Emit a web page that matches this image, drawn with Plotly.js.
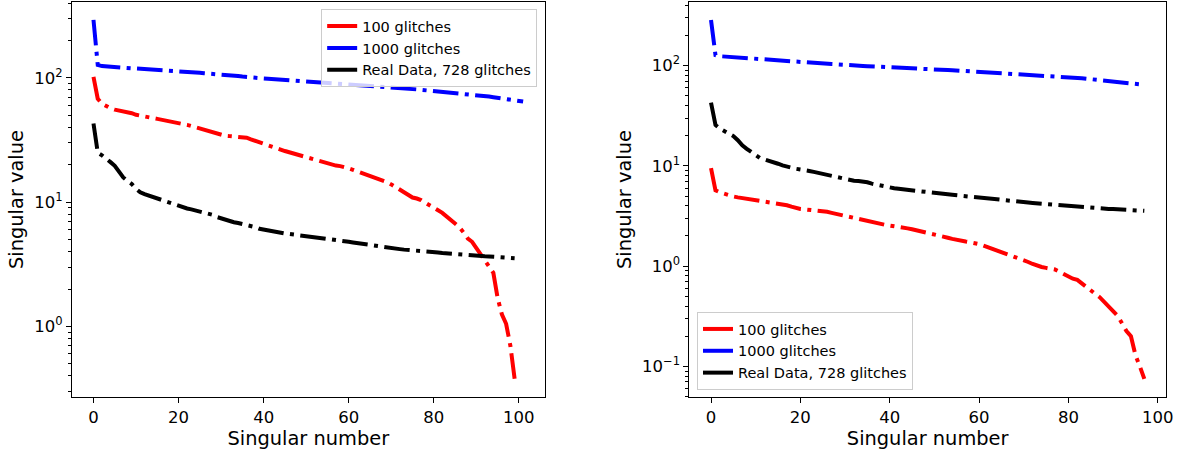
<!DOCTYPE html>
<html>
<head>
<meta charset="utf-8">
<script src="https://cdn.plot.ly/plotly-3.0.1.min.js"></script>
<style>html,body{margin:0;padding:0;background:#fff;}#chart{width:1180px;height:450px;}</style>
</head>
<body>
<div id="chart"></div>
<script>
// ---- Data ----
const seriesNames = ["100 glitches", "1000 glitches", "Real Data, 728 glitches"];
const seriesColors = ["#ff0000", "#0000ff", "#000000"];

// Left panel
const left100 = [102,68,62,59,57,55.5,54.5,54,53.5,52,50.5,49.5,48.8,48.2,47.5,46.8,46.2,45.5,44.8,44,
  43.2,42.5,41.9,41,40.2,39.4,38.4,37.4,36.3,35.5,34.8,34.2,34,33.8,33.7,33.6,33,32,31.2,30.5,
  29.8,29,28.4,27.6,26.5,25.8,25.2,24.7,24.2,23.7,23.2,22.7,22.2,21.6,21,20.4,20,19.7,19.5,19.2,
  18.7,18.2,17.7,17.1,16.6,16.2,15.9,15.5,15,14.5,13.9,13.2,12.6,12,11.3,10.9,10.7,10.4,9.9,9.5,
  9.0,8.6,8.2,7.7,7.1,6.7,6.3,5.7,5.1,4.8,4.3,3.8,3.4,3.05,2.7,1.7,1.25,1.05,0.7,0.38];
const left1000 = [293,127,124.5,123.5,122.5,122,121,120.5,120,119.5,119,118.5,118,117,116.5,116,115,114.5,114,113,
  112.5,112,111.5,111,110.5,110,109,108.5,108,107,106.5,105.5,105,104,103.5,102.5,101.5,101,100.5,99.5,
  99,98.5,98,97.5,97,96.5,96,95.5,95,94.5,94,93.5,93,92.5,92,91.5,91,90.5,90,89.5,
  89,88.5,88,87.5,87,86.5,86,85.5,85,84.5,84,83.5,83,82.5,82,81.5,80.8,80.2,79.6,79,
  78.4,77.8,77.3,76.8,76.4,76,75.7,75.3,74.6,73.8,73,72.2,71.5,70.8,70,69.3,68.6,67.8,67,66.2,
  65.4,64.5];
const leftReal = [43,25,23.8,22.6,21,19.6,17.5,15.8,14.8,14,12.8,12,11.6,11.3,11,10.7,10.4,10.1,9.8,9.5,
  9.25,9.1,8.9,8.75,8.6,8.45,8.3,8.15,7.9,7.6,7.4,7.2,7.05,6.9,6.8,6.7,6.6,6.5,6.3,6.1,
  6.0,5.9,5.8,5.72,5.65,5.6,5.55,5.5,5.45,5.4,5.35,5.3,5.25,5.2,5.15,5.1,5.05,5.0,4.93,4.86,
  4.8,4.74,4.68,4.62,4.57,4.52,4.46,4.4,4.36,4.31,4.27,4.23,4.19,4.15,4.13,4.1,4.08,4.06,4.03,4.0,
  3.97,3.94,3.9,3.87,3.84,3.82,3.8,3.78,3.76,3.73,3.71,3.69,3.67,3.66,3.64,3.62,3.6,3.58,3.56,3.54];

// Right panel
const right100 = [9.5,5.7,5.45,5.25,5.1,4.95,4.85,4.78,4.72,4.62,4.52,4.45,4.38,4.3,4.24,4.2,4.15,4.05,3.92,3.8,
  3.72,3.68,3.65,3.6,3.56,3.52,3.48,3.4,3.32,3.25,3.15,3.07,3.02,2.97,2.9,2.83,2.77,2.7,2.63,2.58,
  2.54,2.51,2.48,2.43,2.38,2.33,2.28,2.22,2.17,2.13,2.08,2.02,1.97,1.92,1.87,1.82,1.79,1.76,1.73,1.7,
  1.66,1.6,1.54,1.5,1.46,1.4,1.33,1.28,1.23,1.18,1.14,1.1,1.05,1.01,0.98,0.96,0.945,0.925,0.88,0.83,
  0.78,0.75,0.73,0.67,0.62,0.57,0.53,0.49,0.44,0.39,0.355,0.32,0.27,0.225,0.2,0.13,0.1,0.075];
const right1000 = [285,127,124,123,122,121.5,121,120.5,119.5,119,118,117,116.5,115.5,114.5,113,112,111.5,111,110,
  109,108,107,106,105.2,104.5,104,103.5,103,102,101.5,101,100.3,99.8,99.2,98.6,98,97.5,97,96.5,
  96,95.5,95,94.5,94,93.5,93,92.6,92.3,92,91.5,91,90.6,90.2,89.8,89.3,88.8,88.3,87.8,87.3,
  86.8,86.3,85.8,85.3,84.8,84.4,84,83.4,82.8,82.2,81.6,81,80.4,79.9,79.5,79,78.5,78,77.6,77.2,
  76.8,76.4,75.6,74.8,74,73.3,72.6,71.9,71.2,70.6,70,69.3,68.5,67.6,66.8,66,65,64];
const rightReal = [42.8,25.6,23.5,22,20.8,19.8,18,16,14.8,13.8,12.6,11.9,11.6,11.3,11,10.5,10.1,9.8,9.5,9.35,
  9.2,9.1,8.9,8.7,8.5,8.3,8.05,7.85,7.65,7.45,7.3,7.2,7.1,7.05,7.0,6.85,6.65,6.5,6.3,6.15,
  6.05,5.98,5.9,5.82,5.76,5.7,5.63,5.57,5.5,5.44,5.38,5.32,5.26,5.2,5.14,5.08,5.02,4.97,4.92,4.86,
  4.81,4.76,4.72,4.68,4.65,4.6,4.55,4.5,4.45,4.4,4.35,4.31,4.27,4.23,4.19,4.15,4.12,4.09,4.05,4.01,
  3.97,3.93,3.9,3.86,3.82,3.79,3.77,3.76,3.74,3.72,3.71,3.70,3.68,3.66,3.64,3.61,3.58,3.56];

const xTickVals = [0, 20, 40, 60, 80, 100];
const yTickVals = [0.1, 1, 10, 100];
const yTickText = ["10<sup>\u22121</sup>", "10<sup>0</sup>", "10<sup>1</sup>", "10<sup>2</sup>"];
const xTitle = "Singular number";
const yTitle = "Singular value";

// ---- Build ----
const idx = arr => arr.map((_, i) => i);
const FONT = "DejaVu Sans, Liberation Sans, sans-serif";
const lw = 4;
const dashdot = "25.6px,6.4px,4px,6.4px";

const minorVals = [];
for (let d = -2; d <= 2; d++) for (let k = 2; k <= 9; k++) minorVals.push(k * Math.pow(10, d));

const leftSets = [left100, left1000, leftReal];
const rightSets = [right100, right1000, rightReal];
const traces = [];
leftSets.forEach((ys, s) => traces.push({
  x: idx(ys), y: ys, type: "scatter", mode: "lines", xaxis: "x", yaxis: "y",
  line: {color: seriesColors[s], width: lw, dash: dashdot}, showlegend: false, hoverinfo: "skip"
}));
rightSets.forEach((ys, s) => traces.push({
  x: idx(ys), y: ys, type: "scatter", mode: "lines", xaxis: "x2", yaxis: "y2",
  line: {color: seriesColors[s], width: lw, dash: dashdot}, showlegend: false, hoverinfo: "skip"
}));
// legend entries (solid short samples like matplotlib)
seriesNames.forEach((n, s) => traces.push({
  x: [null], y: [null], type: "scatter", mode: "lines", xaxis: "x", yaxis: "y",
  name: n, line: {color: seriesColors[s], width: lw}, legend: "legend"
}));
seriesNames.forEach((n, s) => traces.push({
  x: [null], y: [null], type: "scatter", mode: "lines", xaxis: "x2", yaxis: "y2",
  name: n, line: {color: seriesColors[s], width: lw}, legend: "legend2"
}));

const tickFont = {family: FONT, size: 16.5, color: "#000"};
const titleFont = {family: FONT, size: 19.4, color: "#000"};
function xa(domain, range) {
  return {domain, range, tickvals: xTickVals, ticks: "outside", ticklen: 5, tickwidth: 1, tickcolor: "#000",
    showline: true, mirror: true, linecolor: "#000", linewidth: 1, showgrid: false, zeroline: false,
    tickfont: tickFont, title: {text: xTitle, font: titleFont, standoff: 3}, automargin: false};
}
function ya(range, anchor) {
  return {type: "log", range, anchor, tickvals: yTickVals, ticktext: yTickText, ticks: "outside", ticklen: 5,
    tickwidth: 1, tickcolor: "#000", showline: true, mirror: true, linecolor: "#000", linewidth: 1,
    showgrid: false, zeroline: false, tickfont: tickFont, title: {text: yTitle, font: titleFont, standoff: 5},
    automargin: false,
    minor: {tickvals: minorVals, ticks: "outside", ticklen: 3, tickwidth: 1, tickcolor: "#000", showgrid: false}};
}
const legendCommon = {bgcolor: "rgba(255,255,255,0.8)", bordercolor: "#cccccc", borderwidth: 1,
  font: {family: FONT, size: 14.5, color: "#000"}, tracegroupgap: 0};

const layout = {
  width: 1180, height: 450,
  margin: {l: 71.5, r: 13.7, t: 2, b: 53},
  paper_bgcolor: "#fff", plot_bgcolor: "#fff",
  xaxis: Object.assign(xa([0, 0.4320], [-5.05, 106.05]), {anchor: "y"}),
  yaxis: ya([-0.568, 2.611], "x"),
  xaxis2: Object.assign(xa([0.5643, 1], [-4.85, 101.85]), {anchor: "y2"}),
  yaxis2: ya([-1.305, 2.634], "x2"),
  legend: Object.assign({x: 0.4252, y: 0.982, xanchor: "right", yanchor: "top"}, legendCommon),
  legend2: Object.assign({x: 0.5713, y: 0.0177, xanchor: "left", yanchor: "bottom"}, legendCommon),
  showlegend: true
};
Plotly.newPlot("chart", traces, layout, {staticPlot: true, displayModeBar: false});
</script>
</body>
</html>
